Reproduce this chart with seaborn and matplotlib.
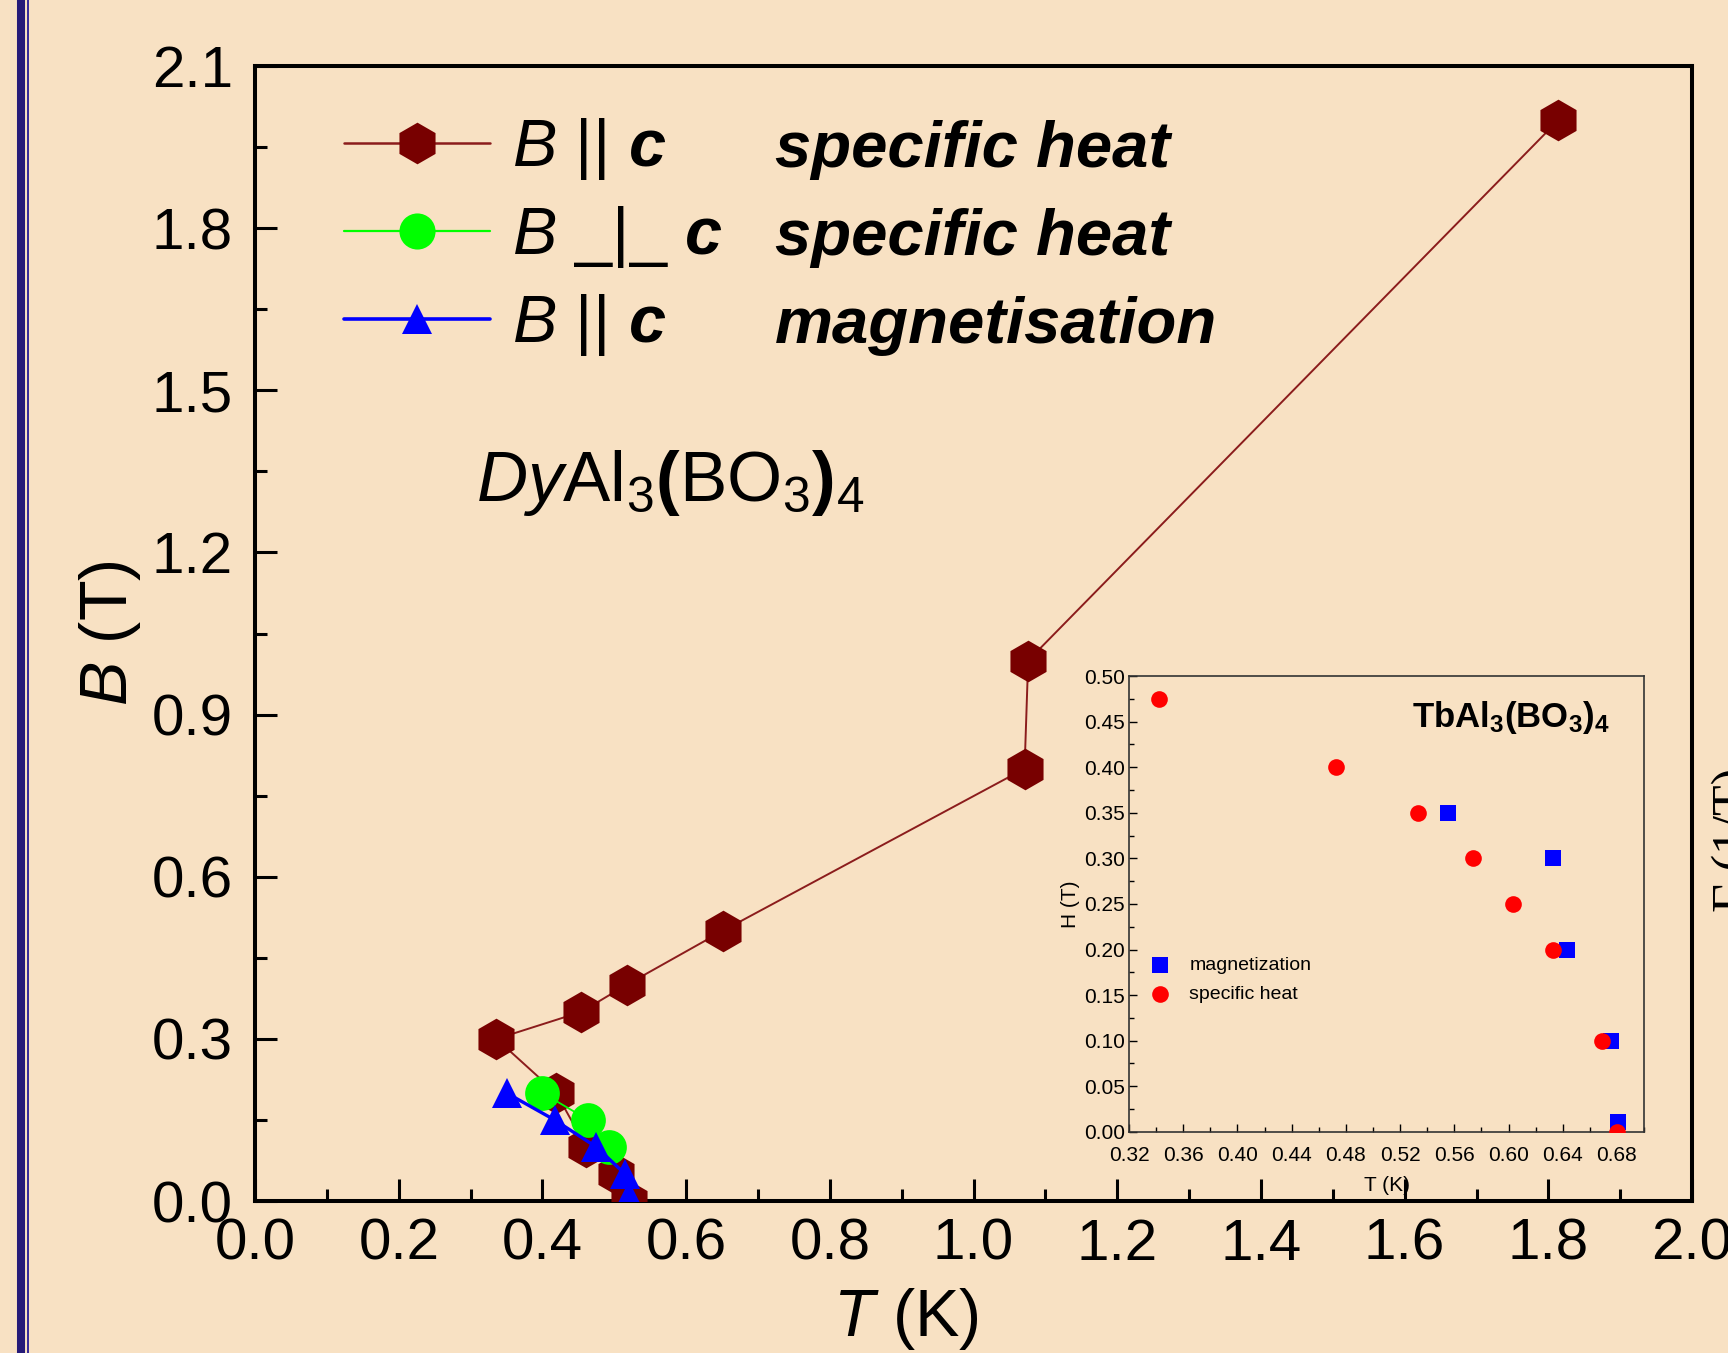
import matplotlib
matplotlib.use("Agg")
import matplotlib.pyplot as plt
import seaborn as sns
from matplotlib.lines import Line2D
from matplotlib.ticker import MultipleLocator, FormatStrFormatter

# DyAl3(BO3)4 phase boundary (main panel)
T_par_heat = [0.521, 0.503, 0.461, 0.419, 0.336, 0.454, 0.517, 0.651, 1.071, 1.076, 1.814]
B_par_heat = [0.00, 0.05, 0.10, 0.20, 0.30, 0.35, 0.40, 0.50, 0.80, 1.00, 2.00]
T_perp_heat = [0.400, 0.464, 0.493]
B_perp_heat = [0.20, 0.15, 0.10]
T_par_mag = [0.350, 0.417, 0.475, 0.515, 0.521]
B_par_mag = [0.20, 0.15, 0.10, 0.05, 0.01]

# TbAl3(BO3)4 (inset)
T_tb_mag = [0.555, 0.633, 0.643, 0.676, 0.681]
H_tb_mag = [0.35, 0.30, 0.20, 0.10, 0.011]
T_tb_heat = [0.342, 0.473, 0.533, 0.574, 0.603, 0.633, 0.669, 0.680]
H_tb_heat = [0.475, 0.40, 0.35, 0.30, 0.25, 0.20, 0.10, 0.0]

bg = "#F8E1C3"
hex_c = "#780000"
red_line = "#8B1C1C"
green = "#00FF00"
blue = "#0000FF"

sns.set_style("ticks")
plt.rcParams["font.family"] = ["Liberation Sans", "DejaVu Sans"]
plt.rcParams["mathtext.fontset"] = "custom"
plt.rcParams["mathtext.rm"] = "Liberation Sans"
plt.rcParams["mathtext.it"] = "Liberation Sans:italic"
plt.rcParams["mathtext.bf"] = "Liberation Sans:bold"
plt.rcParams["mathtext.bfit"] = "Liberation Sans:bold:italic"
plt.rcParams["axes.edgecolor"] = "black"
plt.rcParams["text.color"] = "black"
plt.rcParams["axes.labelcolor"] = "black"
plt.rcParams["xtick.color"] = "black"
plt.rcParams["ytick.color"] = "black"

fig = plt.figure(figsize=(17.28, 13.53), dpi=100, facecolor=bg)
ax = fig.add_axes([0.1476, 0.1123, 0.8316, 0.8389])
ax.set_facecolor(bg)

sns.lineplot(x=T_par_heat, y=B_par_heat, sort=False, estimator=None, ax=ax,
             color=red_line, lw=1.4, marker="h", markersize=30,
             markerfacecolor=hex_c, markeredgecolor=hex_c, markeredgewidth=0, zorder=3)
sns.lineplot(x=T_perp_heat, y=B_perp_heat, sort=False, estimator=None, ax=ax,
             color=green, lw=1.3, marker="o", markersize=25,
             markerfacecolor=green, markeredgecolor=green, markeredgewidth=0, zorder=4)
sns.lineplot(x=T_par_mag, y=B_par_mag, sort=False, estimator=None, ax=ax,
             color=blue, lw=2.4, marker="^", markersize=22,
             markerfacecolor=blue, markeredgecolor=blue, markeredgewidth=0, zorder=5)

ax.set_xlim(0, 2.0)
ax.set_ylim(0, 2.1)
ax.xaxis.set_major_locator(MultipleLocator(0.2))
ax.xaxis.set_minor_locator(MultipleLocator(0.1))
ax.yaxis.set_major_locator(MultipleLocator(0.3))
ax.yaxis.set_minor_locator(MultipleLocator(0.15))
ax.xaxis.set_major_formatter(FormatStrFormatter("%.1f"))
ax.yaxis.set_major_formatter(FormatStrFormatter("%.1f"))
ax.tick_params(which="both", direction="in", width=2.2, top=False, right=False)
ax.tick_params(which="major", length=16, labelsize=42)
ax.tick_params(which="minor", length=8.5)
ax.tick_params(axis="x", pad=12)
ax.tick_params(axis="y", pad=16)
for s in ax.spines.values():
    s.set_linewidth(2.9)

ax.set_xlabel(r"$\mathit{T}$ (K)", fontsize=48)
ax.set_ylabel(r"$\mathit{B}$ (T)", fontsize=48)
ax.xaxis.set_label_coords(0.453, -0.075)
ax.yaxis.set_label_coords(-0.078, 0.5)

# legend: handles + "B || c" part, description written next to it
handles = [
    Line2D([], [], color=red_line, lw=1.8, marker="h", markersize=30, mfc=hex_c, mec=hex_c, mew=0),
    Line2D([], [], color=green, lw=1.6, marker="o", markersize=26, mfc=green, mec=green, mew=0),
    Line2D([], [], color=blue, lw=2.6, marker="^", markersize=22, mfc=blue, mec=blue, mew=0),
]
labels = [r"$\mathit{B}\ \mathrm{||}\ \mathbfit{c}$",
          r"$\mathit{B}\ \mathrm{\_|\_}\ \mathbfit{c}$",
          r"$\mathit{B}\ \mathrm{||}\ \mathbfit{c}$"]
ax.legend(handles, labels, loc="upper left", bbox_to_anchor=(0.062, 0.956),
          frameon=False, fontsize=48, handlelength=2.19, handletextpad=0.33,
          labelspacing=0.33, borderpad=0, borderaxespad=0, numpoints=1)
desc = ["specific heat", "specific heat", "magnetisation"]
desc_y = [0.911, 0.8335, 0.756]
for t, y in zip(desc, desc_y):
    ax.text(0.362, y, t, transform=ax.transAxes, fontsize=47, fontweight="bold",
            fontstyle="italic", va="baseline", ha="left")

ax.text(0.154, 0.617,
        r"$\mathit{Dy}\mathrm{Al}_{\mathrm{3}}\mathbf{(}\mathrm{BO}_{\mathrm{3}}\mathbf{)}_{\mathrm{4}}$",
        transform=ax.transAxes, fontsize=51, va="baseline", ha="left")

# inset
axin = fig.add_axes([0.6534, 0.1635, 0.298, 0.3368])
axin.patch.set_alpha(0)
sns.scatterplot(x=T_tb_mag, y=H_tb_mag, marker="s", s=11 ** 2, color=blue,
                linewidth=0, ax=axin, label="magnetization", zorder=3)
sns.scatterplot(x=T_tb_heat, y=H_tb_heat, marker="o", s=12 ** 2, color="#FF0000",
                linewidth=0, ax=axin, label="specific heat", zorder=4)
axin.set_xlim(0.32, 0.70)
axin.set_ylim(0, 0.5)
axin.xaxis.set_major_locator(MultipleLocator(0.04))
axin.xaxis.set_minor_locator(MultipleLocator(0.02))
axin.yaxis.set_major_locator(MultipleLocator(0.05))
axin.yaxis.set_minor_locator(MultipleLocator(0.025))
axin.xaxis.set_major_formatter(FormatStrFormatter("%.2f"))
axin.yaxis.set_major_formatter(FormatStrFormatter("%.2f"))
axin.tick_params(which="both", direction="in", width=1, top=False, right=False, labelsize=15)
axin.tick_params(which="major", length=6)
axin.tick_params(which="minor", length=3.5)
axin.tick_params(axis="x", pad=10)
axin.tick_params(axis="y", pad=3)
for s in axin.spines.values():
    s.set_linewidth(1.2)
    s.set_color("#333333")
axin.set_xlabel("T (K)", fontsize=15, labelpad=8)
axin.set_ylabel("H (T)", fontsize=15, labelpad=3)
axin.legend(loc="upper left", bbox_to_anchor=(0.045, 0.385), frameon=False, fontsize=14,
            handlelength=0.8, handletextpad=1.1, labelspacing=0.6, borderpad=0,
            borderaxespad=0)
axin.text(0.55, 0.888, r"$\mathbf{TbAl_3(BO_3)_4}$", transform=axin.transAxes,
          fontsize=25, va="baseline", ha="left")

# partial label of a neighbouring panel, cut by the right edge
fig.text(1.004, 0.379, "Γ (1/T)", rotation=90, fontsize=36, family="Liberation Serif",
         ha="center", va="center")

# slide frame on the left
fig.add_artist(Line2D([21 / 1728] * 2, [0, 1], transform=fig.transFigure, color="#251A78", lw=5.8))
fig.add_artist(Line2D([28 / 1728] * 2, [0, 1], transform=fig.transFigure, color="#34289A", lw=1.4))

fig.savefig("out.png", dpi=100, facecolor=bg)
